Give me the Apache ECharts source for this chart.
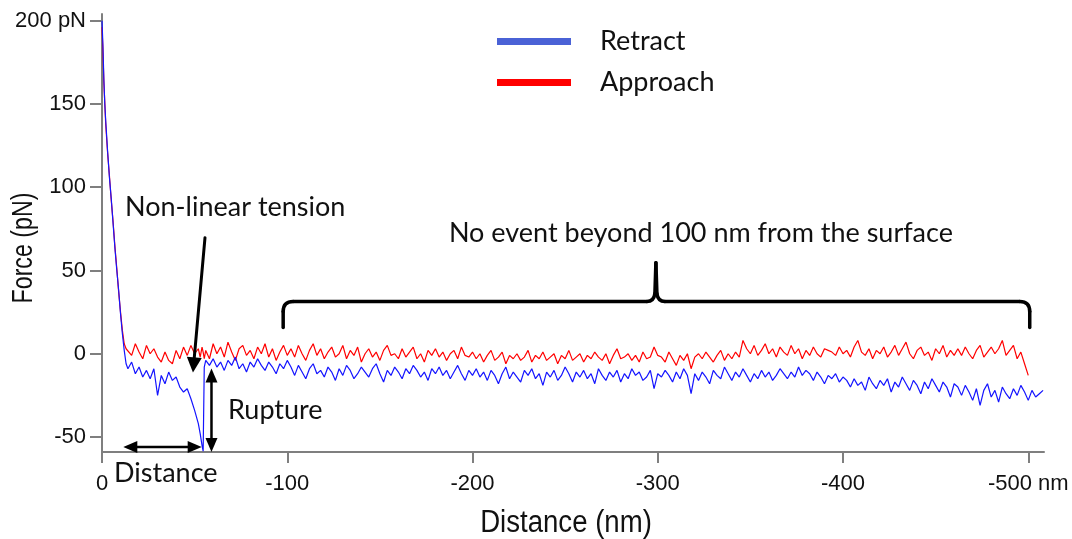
<!DOCTYPE html>
<html>
<head>
<meta charset="utf-8">
<script src="https://cdn.jsdelivr.net/npm/echarts@6/dist/echarts.min.js"></script>
<style>
  html, body { margin: 0; padding: 0; background: #fff; }
  #chart { width: 1072px; height: 539px; }
</style>
</head>
<body>
<div id="chart"></div>
<script>
// Tip-sample separation (nm, negative = away from the surface)
const distance = [
  0, -0.5, -1, -1.5, -2, -3, -4, -5, -6, -7, -8, -9, -10, -11, -12, -13,
  -14, -16, -18, -20, -22, -24, -26, -28, -30, -32, -34, -36, -38, -40, -42, -44, -46, -48, -50, -52,
  -53, -54, -54.6, -55.2,
  -56, -58, -60, -62, -64, -66, -68, -70, -72, -74,
  -76, -78, -80, -82, -84, -86, -88, -90, -92, -94,
  -96, -98, -100,
  -102, -104, -106, -108, -110, -112, -114, -116, -118, -120,
  -122, -124, -126, -128, -130, -132, -134, -136, -138, -140,
  -142, -144, -146, -148, -150, -152, -154, -156, -158, -160,
  -162, -164, -166, -168, -170, -172, -174, -176, -178, -180,
  -182, -184, -186, -188, -190, -192, -194, -196, -198, -200,
  -202, -204, -206, -208, -210, -212, -214, -216, -218, -220,
  -222, -224, -226, -228, -230, -232, -234, -236, -238, -240,
  -242, -244, -246, -248, -250, -252, -254, -256, -258, -260,
  -262, -264, -266, -268, -270, -272, -274, -276, -278, -280,
  -282, -284, -286, -288, -290, -292, -294, -296, -298, -300,
  -302, -304, -306, -308, -310, -312, -314, -316, -318, -320,
  -322, -324, -326, -328, -330, -332, -334, -336, -338, -340,
  -342, -344, -346, -348, -350, -352, -354, -356, -358, -360,
  -362, -364, -366, -368, -370, -372, -374, -376, -378, -380,
  -382, -384, -386, -388, -390, -392, -394, -396, -398, -400,
  -402, -404, -406, -408, -410, -412, -414, -416, -418, -420,
  -422, -424, -426, -428, -430, -432, -434, -436, -438, -440,
  -442, -444, -446, -448, -450, -452, -454, -456, -458, -460,
  -462, -464, -466, -468, -470, -472, -474, -476, -478, -480,
  -482, -484, -486, -488, -490, -492, -494, -496, -498, -500,
  -502, -504, -506, -508
];

// Force on the cantilever while pulling away (pN)
const retract = [
  200, 185, 165, 150, 140, 122, 106, 93, 78, 63, 50, 38, 24, 12, 2, -6,
  -9, -5, -12, -8, -14, -10, -15, -9, -25, -13, -18, -11, -16, -14, -20, -23, -21, -27, -34, -42,
  -48, -55, -58.5, -8,
  -4, -7, -3, -8, -5, -10, -4, -7, -2, -9,
  -6, -11, -5, -8, -3, -7, -10, -5, -8, -12,
  -6, -9, -4,
  -8, -13, -7, -11, -15, -9, -6, -12, -10, -14,
  -8, -11, -16, -9, -13, -7, -10, -15, -12, -8,
  -11, -14, -9, -6, -12, -17, -10, -13, -8, -11,
  -15, -9, -12, -7, -10, -14, -11, -16, -9, -12,
  -8, -13, -10, -15, -11, -7, -12, -16, -10, -13,
  -9, -14, -11, -16, -10, -13, -18, -12, -8, -15,
  -11, -14, -17, -10, -13, -9, -15, -12, -19, -11,
  -14, -10, -16, -13, -8, -12, -17, -11, -14, -10,
  -15, -12, -18, -9, -13, -16, -11, -14, -10, -17,
  -12, -15, -9, -13, -11, -16, -14, -10, -21, -12,
  -14, -10, -13, -17, -11, -15, -9, -13, -24, -12,
  -16, -11, -14, -18, -10, -13, -15, -8, -12, -16,
  -11, -14, -9, -13, -17, -12, -15, -10, -14, -11,
  -16, -13, -9, -12, -15, -11, -14, -8, -13, -10,
  -12, -16, -11, -14, -18, -13, -15, -12, -17, -14,
  -16, -20, -15, -19, -17, -22, -14, -18, -21, -16,
  -19, -15, -23, -17, -20, -14, -18, -22, -16, -19,
  -24, -17, -21, -15, -19, -23, -17, -20, -26, -18,
  -20, -25, -19, -23, -28, -21, -31, -22, -18, -26,
  -22, -29, -20, -24, -27, -21, -25, -19, -23, -28,
  -22, -26, -24, -22
];

// Force while moving towards the surface (pN), recorded up to -500 nm
const approach = [
  196, 182, 163, 151, 138, 121, 107, 92, 79, 64, 51, 37, 25, 14, 6, 3,
  4, -1, 6, 1, -3, 5, 0, 3, -2, -5, 1, -4, -6, 2, -3, 4, -1, 5, 0, 3,
  -2, 4, 1, -3,
  2, -3, 6, 0, 4, -2, 7, 1, -4, 3,
  5, -1, 2, -3, 4, 0, 6, -2, 3, -4,
  1, 5, -1,
  3, -2, 5, 0, -4, 2, 6, -1, 3, -3,
  1, 4, -2, 0, 5, -3, 2, -1, 4, -5,
  0, 3, -2, 1, -4, 2, 5, -1, 0, -3,
  3, -2, 1, 4, -3, 0, -5, 2, -1, 3,
  -2, 1, -4, 0, 2, -3, 4, -1, -2, 1,
  -3, 0, -5, -1, 2, -4, -2, 1, -6, -1,
  -3, 0, -4, -2, 2, -5, -1, -3, 1, -4,
  -2, 0, -6, -1, -3, 2, -4, -2, 0, -5,
  -1, -3, 1, -2, -4, 0, -6, -1, 3, -3,
  -2, 0, -4, -1, -5, 1, -3, -2, 4, -1,
  -2, -5, 1, -3, -7, -1, -4, 0, -9, -2,
  0, -3, 1, -2, -5, -1, 2, -4, 0, -3,
  1, -2, 8, 3, 0, 5, -1, 2, 6, 0,
  3, -2, 4, 1, -1, 5, 0, 3, -3, 2,
  -1, 4, 0, -2, 3, 2, 1, -1, 4, 0,
  2, -2, 4, 8, 1, -1, 3, -3, 2, 0,
  4, -2, 1, 5, -1, 3, 7, 0, -3, 2,
  4, -1, 1, -4, 3, 0, 5, -2, 2, -1,
  3, -1, 4, 0, -3, 2, 5, -2, 1, 4,
  0, 3, 8, -1, 2, 5, -3, 1, -6, -13
];

const xTicks = [0, -100, -200, -300, -400, -500];
const yTicks = [-50, 0, 50, 100, 150, 200];

const axisFont = "'Liberation Sans', Arial, sans-serif";
const noteFont = "Lato, 'Open Sans', sans-serif";

const pairs = (ys) => ys.map((y, i) => [distance[i], y]);

const chart = echarts.init(document.getElementById('chart'), null, { renderer: 'canvas' });

chart.setOption({
  animation: false,
  backgroundColor: '#ffffff',
  grid: { left: 102, right: 28, top: 14, bottom: 87, containLabel: false, outerBoundsMode: 'none' },
  legend: {
    orient: 'vertical',
    left: 497,
    top: 28,
    padding: 0,
    itemWidth: 74,
    itemHeight: 7,
    itemGap: 14,
    selectedMode: false,
    textStyle: { fontFamily: noteFont, fontSize: 27, color: '#111', padding: [0, 0, 0, 24] },
    data: [
      { name: 'Retract', icon: 'rect', itemStyle: { color: '#4a62d6' } },
      { name: 'Approach', icon: 'rect', itemStyle: { color: '#ff0000' } }
    ]
  },
  xAxis: {
    type: 'value',
    inverse: true,
    min: -508.5,
    max: 0,
    axisLine: { onZero: false, lineStyle: { color: '#7f7f7f', width: 2 } },
    axisTick: { show: true, customValues: xTicks, length: 11, lineStyle: { color: '#7f7f7f', width: 2 } },
    axisLabel: {
      customValues: xTicks,
      margin: 21,
      fontFamily: axisFont,
      fontSize: 22,
      color: '#111',
      formatter: (v) => (v === -500 ? '-500 nm' : String(v))
    },
    splitLine: { show: false }
  },
  yAxis: {
    type: 'value',
    min: -59,
    max: 204,
    axisLine: { show: true, onZero: false, lineStyle: { color: '#7f7f7f', width: 2 } },
    axisTick: { show: true, customValues: yTicks, length: 12, lineStyle: { color: '#7f7f7f', width: 2 } },
    axisLabel: {
      customValues: yTicks,
      margin: 16,
      fontFamily: axisFont,
      fontSize: 22,
      color: '#111',
      formatter: (v) => (v === 200 ? '200 pN' : String(v))
    },
    splitLine: { show: false }
  },
  series: [
    {
      name: 'Approach',
      type: 'line',
      data: pairs(approach),
      showSymbol: false,
      symbol: 'none',
      lineStyle: { color: '#ff0000', width: 1.2 },
      itemStyle: { color: '#ff0000' }
    },
    {
      name: 'Retract',
      type: 'line',
      data: pairs(retract),
      showSymbol: false,
      symbol: 'none',
      lineStyle: { color: '#1414ff', width: 1.2 },
      itemStyle: { color: '#1414ff' }
    }
  ]
});

// ---- annotations, anchored in data units ----
const P = (x, y) => chart.convertToPixel({ gridIndex: 0 }, [x, y]);
const black = '#000';

function seg(a, b, w) {
  return { type: 'line', shape: { x1: a[0], y1: a[1], x2: b[0], y2: b[1] }, style: { stroke: black, lineWidth: w, lineCap: 'round' }, z: 10 };
}
function curve(a, c, b, w) {
  return { type: 'bezierCurve', shape: { x1: a[0], y1: a[1], cpx1: c[0], cpy1: c[1], x2: b[0], y2: b[1] }, style: { stroke: black, lineWidth: w, fill: null, lineCap: 'round' }, z: 10 };
}
function head(tip, from, len, half) {
  const dx = tip[0] - from[0], dy = tip[1] - from[1];
  const L = Math.hypot(dx, dy), ux = dx / L, uy = dy / L;
  const bx = tip[0] - ux * len, by = tip[1] - uy * len;
  return {
    type: 'polygon',
    shape: { points: [[tip[0], tip[1]], [bx - uy * half, by + ux * half], [bx + uy * half, by - ux * half]] },
    style: { fill: black },
    z: 10
  };
}
function back(tip, from, len) {
  const dx = tip[0] - from[0], dy = tip[1] - from[1];
  const L = Math.hypot(dx, dy);
  return [tip[0] - dx / L * len, tip[1] - dy / L * len];
}
function arrow(from, tip, w, len, half) {
  return [seg(from, back(tip, from, len - 1), w), head(tip, from, len, half)];
}
function dblArrow(a, b, w, len, half) {
  return [seg(back(a, b, len - 1), back(b, a, len - 1), w), head(a, b, len, half), head(b, a, len, half)];
}
function note(text, x, y, align) {
  return {
    type: 'text', x: x, y: y, z: 10,
    style: {
      text: text, fill: '#111', fontFamily: noteFont, fontSize: 27,
      align: align, textAlign: align, verticalAlign: 'middle', textVerticalAlign: 'middle'
    }
  };
}
function axisTitle(text, x, y, rot, size, squeeze) {
  return {
    type: 'text', x: x, y: y, rotation: rot, scaleX: squeeze, z: 10,
    style: {
      text: text, fill: '#111', fontFamily: axisFont, fontSize: size,
      align: 'center', textAlign: 'center', verticalAlign: 'middle', textVerticalAlign: 'middle'
    }
  };
}

const els = [];

// tension arrow
els.push(...arrow(P(-55.6, 69.7), P(-49.1, -11.2), 3, 15, 7.5));
// rupture arrow
els.push(...dblArrow(P(-59.1, -8.8), P(-59.1, -59), 2.5, 14, 6));
// loading distance arrow
els.push(...dblArrow(P(-11.5, -56), P(-53.8, -56), 2.5, 14, 6));

// brace over the flat part of the trace
(function () {
  const w = 3.5;
  const l = P(-97.8, 15.8), r = P(-500.8, 15.8);
  const bar = P(-299, 31.4)[1];
  const peak = P(-299, 54.7);
  const xm = peak[0];
  els.push(seg(l, [l[0], bar + 10], w));
  els.push(curve([l[0], bar + 10], [l[0], bar], [l[0] + 10, bar], w));
  els.push(seg([l[0] + 10, bar], [xm - 9, bar], w));
  els.push(curve([xm - 9, bar], [xm - 2, bar], [xm - 1, bar - 8], w));
  els.push(seg([xm - 1, bar - 8], peak, w));
  els.push(seg(peak, [xm + 1, bar - 8], w));
  els.push(curve([xm + 1, bar - 8], [xm + 2, bar], [xm + 9, bar], w));
  els.push(seg([xm + 9, bar], [r[0] - 10, bar], w));
  els.push(curve([r[0] - 10, bar], [r[0], bar], [r[0], bar + 10], w));
  els.push(seg([r[0], bar + 10], r, w));
})();

// notes
let p = P(-12.4, 88);
els.push(note('Non-linear tension', p[0], p[1], 'left'));
p = P(-68, -34);
els.push(note('Rupture', p[0], p[1], 'left'));
p = P(-6.5, -71.8);
els.push(note('Distance', p[0], p[1], 'left'));
p = P(-323.3, 72.1);
els.push(note('No event beyond 100 nm from the surface', p[0], p[1], 'center'));

// axis titles
els.push(axisTitle('Distance (nm)', 566, 523, 0, 31, 0.89));
els.push(axisTitle('Force (pN)', 24, 248, Math.PI / 2, 29, 0.8));

chart.setOption({ graphic: els });
</script>
</body>
</html>
